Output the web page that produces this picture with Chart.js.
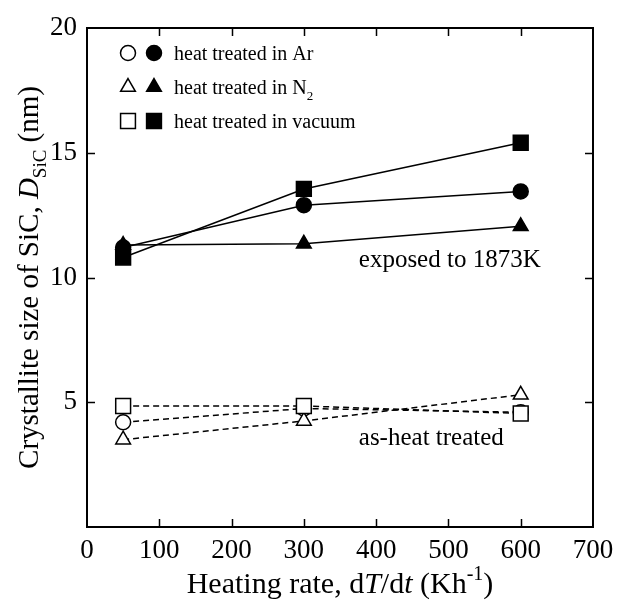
<!DOCTYPE html>
<html>
<head>
<meta charset="utf-8">
<script src="https://cdn.jsdelivr.net/npm/chart.js@4.4.0/dist/chart.umd.min.js"></script>
<style>
  html, body { margin: 0; padding: 0; background: #fff; }
  #wrap { width: 619px; height: 605px; }
</style>
</head>
<body>
<div id="wrap"><canvas id="chart" width="619" height="605"></canvas></div>
<script>
// heating rates (K/h)
const rates = [50, 300, 600];

// exposed to 1873K (filled markers, solid lines)
const arExposed = [11.2, 12.9, 13.45];
const n2Exposed = [11.3, 11.35, 12.05];
const vacExposed = [10.8, 13.55, 15.4];

// as-heat treated (open markers, dashed lines)
const arAsTreated = [4.2, 4.75, 4.6];
const n2AsTreated = [3.5, 4.25, 5.3];
const vacAsTreated = [4.85, 4.85, 4.55];

const xTickStep = 100;
const yTickStep = 5;

const legendRows = [
    { style: 'circle', text: 'heat treated in Ar' },
    { style: 'triangle', text: 'heat treated in N', sub: '2' },
    { style: 'rect', text: 'heat treated in vacuum' }
];

// annotations, in data units
const notes = [
    { text: 'exposed to 1873K', x: 376, y: 10.75 },
    { text: 'as-heat treated', x: 376, y: 3.6 }
];

const SERIF = '"Liberation Serif", "Times New Roman", serif';
const sizes = { circle: 7.5, triangle: 8.5, rect: 10.5 };

function pts(ys) {
    return rates.map((x, i) => ({ x, y: ys[i] }));
}

function series(label, ys, style, filled) {
    return {
        label,
        data: pts(ys),
        borderColor: '#000',
        borderWidth: 1.5,
        borderDash: filled ? [] : [6, 4],
        pointStyle: style,
        pointRadius: sizes[style],
        pointHoverRadius: sizes[style],
        pointBackgroundColor: filled ? '#000' : '#fff',
        pointBorderColor: '#000',
        pointBorderWidth: 1.5,
        fill: false,
        tension: 0
    };
}

// draws text pieces one after another, sub/sup at smaller size
function drawRich(ctx, parts, size, x, y, align) {
    const fontFor = p => `${p.italic ? 'italic ' : ''}${(p.sub || p.sup) ? Math.round(size * 0.65) : size}px ${SERIF}`;
    let total = 0;
    parts.forEach(p => {
        ctx.font = fontFor(p);
        p.w = ctx.measureText(p.text).width;
        total += p.w;
    });
    let cx = align === 'center' ? x - total / 2 : x;
    ctx.textAlign = 'left';
    ctx.textBaseline = 'alphabetic';
    parts.forEach(p => {
        ctx.font = fontFor(p);
        const dy = p.sub ? size * 0.28 : (p.sup ? -size * 0.45 : 0);
        ctx.fillText(p.text, cx, y + dy);
        cx += p.w;
    });
}

const framePlugin = {
    id: 'frame',
    afterDraw(chart) {
        const { ctx, chartArea: a, scales } = chart;
        const xs = scales.x, ys = scales.y;
        ctx.save();
        ctx.fillStyle = '#000';
        ctx.strokeStyle = '#000';

        // frame
        ctx.lineWidth = 2;
        ctx.strokeRect(a.left, a.top, a.right - a.left, a.bottom - a.top);

        // inward ticks on all sides
        ctx.lineWidth = 1.5;
        const tl = 8;
        ctx.beginPath();
        for (let v = xs.min + xTickStep; v < xs.max; v += xTickStep) {
            const px = Math.round(xs.getPixelForValue(v)) + 0.5;
            ctx.moveTo(px, a.bottom); ctx.lineTo(px, a.bottom - tl);
            ctx.moveTo(px, a.top); ctx.lineTo(px, a.top + tl);
        }
        for (let v = ys.min + yTickStep; v < ys.max; v += yTickStep) {
            const py = Math.round(ys.getPixelForValue(v)) + 0.5;
            ctx.moveTo(a.left, py); ctx.lineTo(a.left + tl, py);
            ctx.moveTo(a.right, py); ctx.lineTo(a.right - tl, py);
        }
        ctx.stroke();

        // legend
        legendRows.forEach((r, i) => {
            const cy = a.top + 25 + i * 34;
            const opts = { pointStyle: r.style, radius: sizes[r.style], borderWidth: 1.5 };
            ctx.lineWidth = 1.5;
            ctx.fillStyle = '#fff';
            Chart.helpers.drawPoint(ctx, opts, a.left + 41, cy);
            ctx.fillStyle = '#000';
            Chart.helpers.drawPoint(ctx, opts, a.left + 67, cy);
            const parts = [{ text: r.text }];
            if (r.sub) parts.push({ text: r.sub, sub: true });
            drawRich(ctx, parts, 20, a.left + 87, cy + 7, 'left');
        });

        // annotations
        notes.forEach(n => {
            drawRich(ctx, [{ text: n.text }], 25, xs.getPixelForValue(n.x), ys.getPixelForValue(n.y) + 8, 'left');
        });

        // axis titles
        drawRich(ctx, [
            { text: 'Heating rate, d' }, { text: 'T', italic: true }, { text: '/d' },
            { text: 't', italic: true }, { text: ' (Kh' }, { text: '-1', sup: true }, { text: ')' }
        ], 30, (a.left + a.right) / 2, 593, 'center');

        ctx.translate(28, (a.top + a.bottom) / 2);
        ctx.rotate(-Math.PI / 2);
        drawRich(ctx, [
            { text: 'Crystallite size of SiC, ' }, { text: 'D', italic: true },
            { text: 'SiC', sub: true }, { text: ' (nm)' }
        ], 29, 0, 10, 'center');
        ctx.restore();
    }
};

new Chart(document.getElementById('chart'), {
    type: 'line',
    data: {
        // open squares drawn over open circles, as in the source figure
        datasets: [
            series('vacuum as-treated', vacAsTreated, 'rect', false),
            series('N2 as-treated', n2AsTreated, 'triangle', false),
            series('Ar as-treated', arAsTreated, 'circle', false),
            series('N2 1873K', n2Exposed, 'triangle', true),
            series('vacuum 1873K', vacExposed, 'rect', true),
            series('Ar 1873K', arExposed, 'circle', true)
        ]
    },
    options: {
        responsive: false,
        devicePixelRatio: 1,
        animation: false,
        layout: { padding: { top: 28, right: 26, left: 0, bottom: 0 } },
        plugins: { legend: { display: false }, tooltip: { enabled: false } },
        scales: {
            x: {
                type: 'linear',
                min: 0, max: 700,
                grid: { display: false },
                border: { display: false },
                ticks: { stepSize: xTickStep, padding: 0, color: '#000', font: { family: SERIF, size: 27 }, maxRotation: 0 },
                afterFit: s => { s.height = 78; }
            },
            y: {
                min: 0, max: 20,
                grid: { display: false },
                border: { display: false },
                ticks: {
                    stepSize: yTickStep, padding: 2, color: '#000', font: { family: SERIF, size: 27 },
                    callback: v => v === 0 ? '' : v
                },
                afterFit: s => { s.width = 87; }
            }
        }
    },
    plugins: [framePlugin]
});
</script>
</body>
</html>
